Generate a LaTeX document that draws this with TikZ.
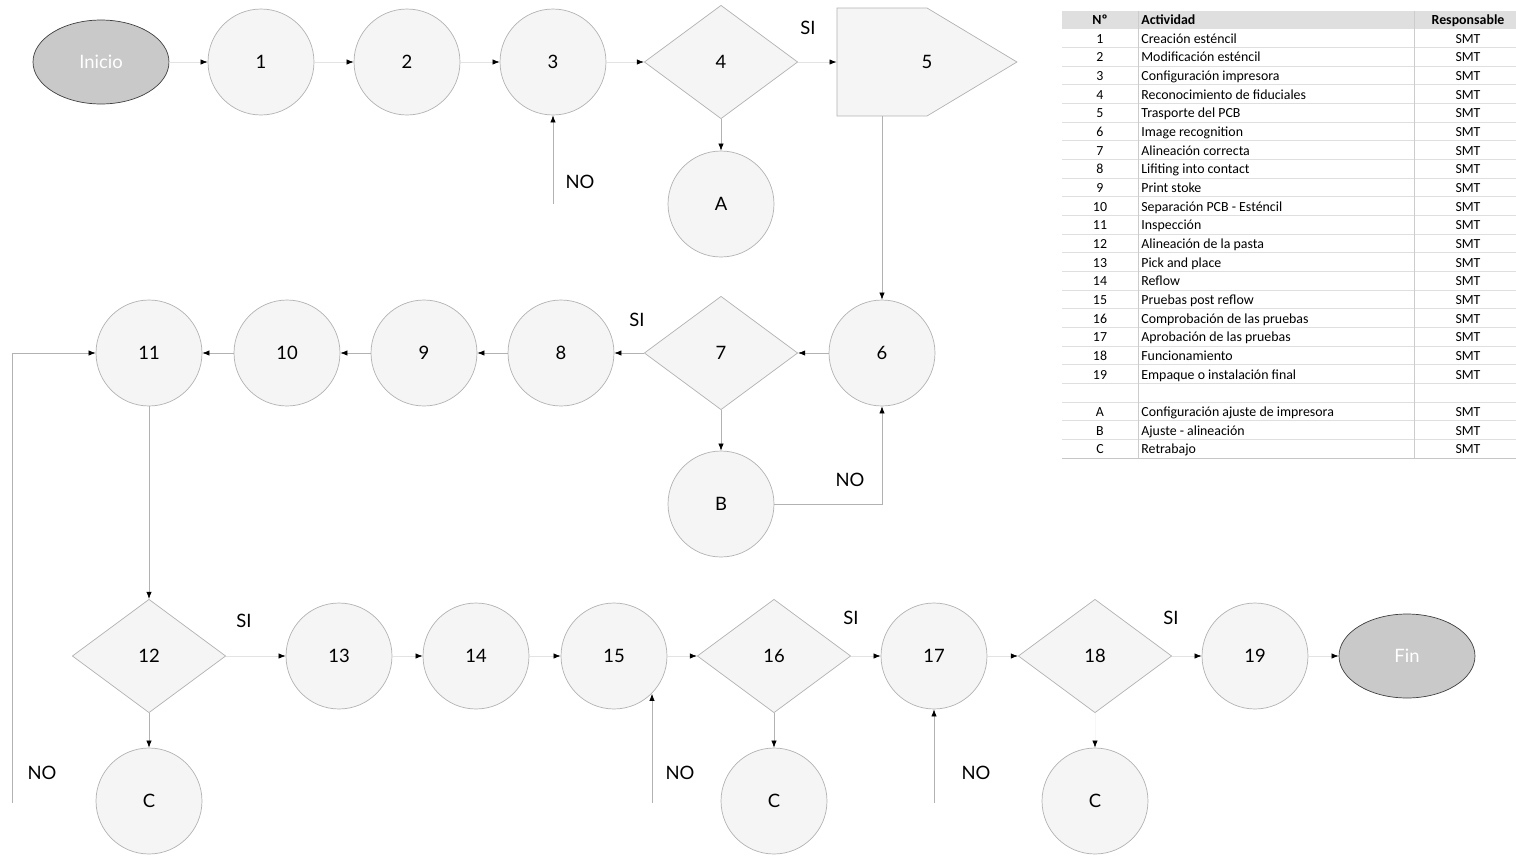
\documentclass[tikz,border=0pt]{standalone}
\usepackage{fontspec}
\setmainfont{Lato}
\newfontfamily\tablafont{Carlito}
\usetikzlibrary{calc,shapes.geometric,shapes.symbols,arrows.meta}

\begin{document}
\begin{tikzpicture}[x=0.02cm,y=-0.02cm,
    proceso/.style={circle,draw=gray!60,fill=gray!8,minimum size=2.12cm,inner sep=0pt,font=\fontsize{10.5}{12}\selectfont},
    decision/.style={diamond,draw=gray!60,fill=gray!8,minimum width=3.07cm,minimum height=2.27cm,inner sep=0pt,font=\fontsize{10.5}{12}\selectfont},
    terminal/.style={ellipse,draw=black!75,fill=gray!42,text=white,minimum width=2.72cm,minimum height=1.68cm,inner sep=0pt,font=\fontsize{10.5}{12}\selectfont},
    flujo/.style={draw=gray!22,-{Latex[length=4pt,width=3pt,black]}},
    flujov/.style={draw=gray!60,-{Latex[length=4pt,width=3pt,black]}},
    etiq/.style={font=\fontsize{10.5}{12}\selectfont},
    tabla/.style={font=\tablafont\fontsize{7.9}{9}\selectfont,inner sep=0pt,text height=1.45ex,text depth=0.3ex},
    tablacab/.style={font=\tablafont\bfseries\fontsize{7.9}{9}\selectfont,inner sep=0pt,text height=1.45ex,text depth=0.3ex}]

    \useasboundingbox (0,0) rectangle (1516,856);

    % Fila superior
    \node[terminal] (inicio) at (101,62) {Inicio};
    \node[proceso] (n1) at (261,62) {1};
    \node[proceso] (n2) at (407,62) {2};
    \node[proceso] (n3) at (553,62) {3};
    \node[decision] (n4) at (721,62) {4};
    \node[proceso] (nA) at (721,204) {A};
    % el cuerpo de la flecha va de 837 a 927, la punta hasta 1017
    \node[signal,signal to=east,signal from=nowhere,signal pointer angle=62,
          draw=gray!60,fill=gray!8,minimum width=3.6cm,minimum height=2.16cm,
          inner sep=0pt] (n5) at (882,62) {};
    \node[etiq] (t5) at (927,62) {5};

    % Fila central (de derecha a izquierda)
    \node[proceso] (n6) at (882,353) {6};
    \node[decision] (n7) at (721,353) {7};
    \node[proceso] (nB) at (721,504) {B};
    \node[proceso] (n8) at (561,353) {8};
    \node[proceso] (n9) at (424,353) {9};
    \node[proceso] (n10) at (287,353) {10};
    \node[proceso] (n11) at (149,353) {11};

    % Fila inferior
    \node[decision] (n12) at (149,656) {12};
    \node[proceso] (nC1) at (149,801) {C};
    \node[proceso] (n13) at (339,656) {13};
    \node[proceso] (n14) at (476,656) {14};
    \node[proceso] (n15) at (614,656) {15};
    \node[decision] (n16) at (774,656) {16};
    \node[proceso] (nC2) at (774,801) {C};
    \node[proceso] (n17) at (934,656) {17};
    \node[decision] (n18) at (1095,656) {18};
    \node[proceso] (nC3) at (1095,801) {C};
    \node[proceso] (n19) at (1255,656) {19};
    \node[terminal] (fin) at (1407,656) {Fin};

    % Entradas sueltas de los retornos "NO"
    \coordinate (no3) at (553,204);
    \coordinate (no11) at (12,803);
    \coordinate (no15) at (652,803);
    \coordinate (no17) at (934,803);

    % Conectores
    \draw[flujo] (inicio) -- (n1);
    \draw[flujo] (n1) -- (n2);
    \draw[flujo] (n2) -- (n3);
    \draw[flujo] (n3) -- (n4);
    \draw[flujo] (n4) -- (n5);
    \draw[flujov] (n4) -- (nA);
    \draw[flujov] (no3) -- (n3);
    \draw[flujov] (n5.south) -- (n6);

    \draw[flujov] (n6) -- (n7);
    \draw[flujov] (n7) -- (n8);
    \draw[flujov] (n8) -- (n9);
    \draw[flujov] (n9) -- (n10);
    \draw[flujov] (n10) -- (n11);
    \draw[flujov] (n7) -- (nB);
    \draw[flujov] (nB.east) -| (n6.south);
    \draw[flujov] (no11) |- (n11.west);
    \draw[flujov] (n11) -- (n12);

    \draw[flujov] (n12) -- (nC1);
    \draw[flujo] (n12) -- (n13);
    \draw[flujo] (n13) -- (n14);
    \draw[flujo] (n14) -- (n15);
    \draw[flujo] (n15) -- (n16);
    \draw[flujov] (no15) -- (no15 |- n15.-45);
    \draw[flujov] (n16) -- (nC2);
    \draw[flujo] (n16) -- (n17);
    \draw[flujov] (no17) -- (n17);
    \draw[flujo] (n17) -- (n18);
    \draw[draw=gray!6,-{Latex[length=4pt,width=3pt,black]}] (n18) -- (nC3);
    \draw[flujo] (n18) -- (n19);
    \draw[flujo] (n19) -- (fin);

    % Etiquetas SI / NO
    \node[etiq] (si4) at (808,28) {SI};
    \node[etiq] (no3t) at (580,182) {NO};
    \node[etiq] (si7) at (637,320) {SI};
    \node[etiq] (noB) at (850,480) {NO};
    \node[etiq] (no11t) at (42,773) {NO};
    \node[etiq] (si12) at (244,621) {SI};
    \node[etiq] (no15t) at (680,773) {NO};
    \node[etiq] (si16) at (851,618) {SI};
    \node[etiq] (no17t) at (976,773) {NO};
    \node[etiq] (si18) at (1171,618) {SI};

    % Tabla de actividades
    \fill[gray!25] (1062,11) rectangle (1516,28.7);
    \foreach \r in {0,...,23}
        \draw[gray!25] (1062,{28.7+\r*18.67}) -- (1516,{28.7+\r*18.67});
    \draw[gray!40] (1138,11) -- (1138,458);
    \draw[gray!40] (1414,11) -- (1414,458);
    \draw[gray!45] (1062,458) -- (1516,458);

    \node[tablacab] (cabnum) at (1100,19.8) {Nº};
    \node[tablacab,anchor=west] (cabact) at (1141,19.8) {Actividad};
    \node[tablacab] (cabresp) at (1468,19.8) {Responsable};

    \foreach \r/\n/\txt in {1/1/Creación esténcil,2/2/Modificación esténcil,
        3/3/Configuración impresora,4/4/Reconocimiento de fiduciales,
        5/5/Trasporte del PCB,6/6/Image recognition,7/7/Alineación correcta,
        8/8/Lifiting into contact,9/9/Print stoke,10/10/Separación PCB - Esténcil,
        11/11/Inspección,12/12/Alineación de la pasta,13/13/Pick and place,
        14/14/Reflow,15/15/Pruebas post reflow,16/16/Comprobación de las pruebas,
        17/17/Aprobación de las pruebas,18/18/Funcionamiento,
        19/19/Empaque o instalación final,21/A/Configuración ajuste de impresora,
        22/B/Ajuste - alineación,23/C/Retrabajo} {
        \node[tabla] (num\r) at (1100,{38+(\r-1)*18.67}) {\n};
        \node[tabla,anchor=west] (act\r) at (1141,{38+(\r-1)*18.67}) {\txt};
        \node[tabla] (resp\r) at (1468,{38+(\r-1)*18.67}) {SMT};
    }
\end{tikzpicture}
\end{document}
